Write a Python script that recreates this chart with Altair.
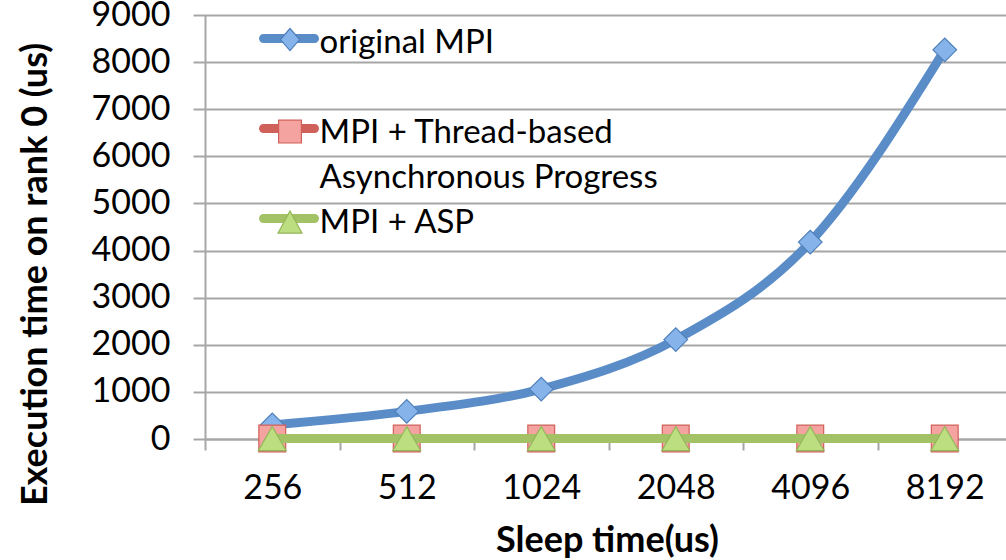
import altair as alt
import pandas as pd

# ---- data ----
sleep_times = ["256", "512", "1024", "2048", "4096", "8192"]
series_names = ["original MPI", "MPI + Thread-based Asynchronous Progress", "MPI + ASP"]
original_mpi = [300, 586, 1060, 2110, 4180, 8260]
thread_based = [10, 10, 10, 10, 10, 10]
mpi_asp = [10, 10, 10, 10, 10, 10]
y_ticks = [0, 1000, 2000, 3000, 4000, 5000, 6000, 7000, 8000, 9000]

values = [original_mpi, thread_based, mpi_asp]
rows = []
for name, vals in zip(series_names, values):
    for t, v in zip(sleep_times, vals):
        rows.append({"sleep": t, "time": v, "series": name})
df = pd.DataFrame(rows)

# styles
line_colors = ["#5A8DC8", "#D0605A", "#A3C266"]
marker_fill = ["#86B4EA", "#F4A3A0", "#BCDD80"]
marker_stroke = ["#4F7FBA", "#D0605A", "#94B65A"]
marker_shape = ["diamond", "square", "triangle-up"]
marker_size = [560, 720, 780]

FONT = "Lato"
GRID = "#A6A6A6"

x_enc = alt.X(
    "sleep:N",
    sort=sleep_times,
    bandPosition=0.5,
    scale=alt.Scale(type="band", domain=sleep_times, range=[0, 807], paddingInner=0, paddingOuter=0),
    axis=alt.Axis(
        title="Sleep time(us)",
        tickBand="extent",
        grid=False,
        labelAngle=0,
        labelFont=FONT, labelFontSize=34, labelColor="#000000", labelPadding=21,
        tickSize=11, tickColor=GRID, tickWidth=2,
        domainColor=GRID, domainWidth=2,
        titleFont=FONT, titleFontSize=36, titleFontWeight="bold", titleColor="#000000",
        titleX=402, titleY=101, titleAnchor="middle", titleAlign="center", titleBaseline="middle",
    ),
)
y_enc = alt.Y(
    "time:Q",
    scale=alt.Scale(domain=[0, 9000], nice=False, zero=True),
    axis=alt.Axis(
        title="Execution time on rank 0 (us)",
        values=y_ticks, format="d",
        grid=True, gridColor=GRID, gridWidth=2,
        labelFont=FONT, labelFontSize=34, labelColor="#000000", labelPadding=23,
        tickSize=12, tickColor=GRID, tickWidth=2,
        domainColor=GRID, domainWidth=2,
        titleFont=FONT, titleFontSize=36, titleFontWeight="bold", titleColor="#000000",
        titleX=-170, titleY=259, titleAngle=270, titleAlign="center", titleBaseline="middle",
    ),
)

base = alt.Chart(df)
layers = []
for i, name in enumerate(series_names):
    sub = base.transform_filter(alt.datum.series == name)
    line = sub.mark_line(
        color=line_colors[i], strokeWidth=9, strokeCap="round", strokeJoin="round",
        interpolate="monotone" if i == 0 else "linear",
    ).encode(x=x_enc, y=y_enc)
    pts = sub.mark_point(
        shape=marker_shape[i], filled=True, fill=marker_fill[i], stroke=marker_stroke[i],
        strokeWidth=1.2, size=marker_size[i], opacity=1,
    ).encode(x=x_enc, y=y_enc)
    layers += [line, pts]

# ---- legend (native legends, two overlaid: bars + markers) ----
gap1 = "\u2009"
cont = "\u200a"
legend_rows = [series_names[0], gap1, series_names[1], cont, series_names[2]]
label_expr = (
    f"datum.label == '{series_names[1]}' ? 'MPI + Thread-based' : "
    f"datum.label == '{cont}' ? 'Asynchronous Progress' : "
    f"datum.label == '{gap1}' ? ' ' : datum.label"
)
leg_df = pd.DataFrame({"entry": legend_rows})

bar_path = "M-1.133,-0.373 L1.133,-0.373 A0.2,0.2 0 0 1 1.133,0.027 L-1.133,0.027 A0.2,0.2 0 0 1 -1.133,-0.373 Z"
diamond_path = "M0,-0.667 L0.427,-0.173 L0,0.32 L-0.427,-0.173 Z"
square_path = "M-0.507,-0.68 L0.507,-0.68 L0.507,0.333 L-0.507,0.333 Z"
triangle_path = "M0,-0.733 L0.533,0.253 L-0.533,0.253 Z"

LEG_X, LEG_Y, ROW_PAD, LEG_FS = 61.5, 5, 5, 33


def make_legend(label_opacity, stroke_width, symbol_type=None):
    kw = dict(
        title=None, orient="none", legendX=LEG_X, legendY=LEG_Y, padding=0,
        symbolSize=2025, symbolStrokeWidth=stroke_width, symbolOpacity=1,
        labelFont=FONT, labelFontSize=LEG_FS, labelColor="#000000", labelLimit=600,
        labelOffset=8, labelOpacity=label_opacity, labelExpr=label_expr,
        rowPadding=ROW_PAD,
    )
    if symbol_type is not None:
        kw["symbolType"] = symbol_type
    return alt.Legend(**kw)


legend_bars = alt.Chart(leg_df).mark_point(filled=True, opacity=0).encode(
    fill=alt.Fill(
        "entry:N", sort=legend_rows,
        scale=alt.Scale(domain=legend_rows,
                        range=[line_colors[0], "transparent", line_colors[1], "transparent", line_colors[2]]),
        legend=make_legend(1, 0, bar_path),
    )
)

mk_legend = make_legend(0, 1.2)
legend_marks = alt.Chart(leg_df).mark_point(filled=True, opacity=0).encode(
    shape=alt.Shape(
        "entry:N", sort=legend_rows,
        scale=alt.Scale(domain=legend_rows,
                        range=[diamond_path, diamond_path, square_path, square_path, triangle_path]),
        legend=mk_legend,
    ),
    color=alt.Color(
        "entry:N", sort=legend_rows,
        scale=alt.Scale(domain=legend_rows,
                        range=[marker_fill[0], "transparent", marker_fill[1], "transparent", marker_fill[2]]),
        legend=mk_legend,
    ),
    stroke=alt.Stroke(
        "entry:N", sort=legend_rows,
        scale=alt.Scale(domain=legend_rows,
                        range=[marker_stroke[0], "transparent", marker_stroke[1], "transparent", marker_stroke[2]]),
        legend=mk_legend,
    ),
)

chart = alt.layer(*layers, legend_bars, legend_marks).resolve_legend(
    fill="independent", shape="independent", color="independent", stroke="independent"
).properties(
    width=801, height=424,
    padding={"left": 205, "top": 15, "right": 0, "bottom": 121},
    autosize=alt.AutoSizeParams(type="none"),
    background="white",
).configure_view(stroke=None)

chart.save("out.html", embed_options={"renderer": "svg", "actions": False})
